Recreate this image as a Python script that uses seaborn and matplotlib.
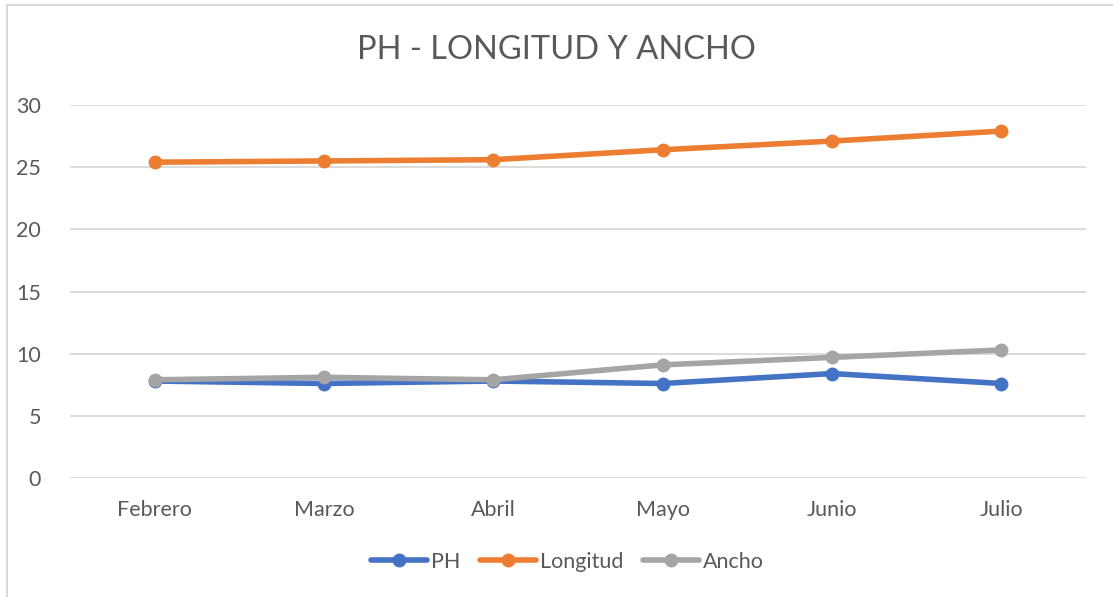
import pandas as pd
import matplotlib.pyplot as plt
import seaborn as sns
from matplotlib.patches import Rectangle

# data
meses = ["Febrero", "Marzo", "Abril", "Mayo", "Junio", "Julio"]
ph = [7.8, 7.6, 7.8, 7.6, 8.4, 7.6]
longitud = [25.4, 25.5, 25.6, 26.4, 27.1, 27.9]
ancho = [7.9, 8.1, 7.9, 9.1, 9.7, 10.3]
series = ["PH", "Longitud", "Ancho"]
colores = ["#4472C4", "#ED7D31", "#A5A5A5"]

df = pd.DataFrame({"Mes": meses * 3,
                   "Valor": ph + longitud + ancho,
                   "Serie": [s for s in series for _ in meses]})

sns.set_theme(style="white")
plt.rcParams['font.family'] = ['Lato', 'DejaVu Sans']

fig = plt.figure(figsize=(11.13, 5.97), dpi=100)
ax = fig.add_axes([70 / 1113, 1 - 478 / 597, 1016 / 1113, 373 / 597])

sns.lineplot(data=df, x="Mes", y="Valor", hue="Serie", hue_order=series,
             palette=colores, marker="o", markersize=10, markeredgewidth=0,
             linewidth=4, sort=False, dashes=False, ax=ax)

ax.set_xlim(-0.5, 5.5)
ax.set_ylim(0, 30)
ax.set_yticks(range(0, 31, 5))
ax.grid(axis="y", color="#D9D9D9", linewidth=1.3)
ax.set_axisbelow(True)
for s in ax.spines.values():
    s.set_visible(False)
ax.tick_params(axis="both", length=0, labelsize=15.5, labelcolor="#595959")
ax.tick_params(axis="x", pad=16)
ax.tick_params(axis="y", pad=21)
ax.set_xlabel("")
ax.set_ylabel("")

fig.text(0.5, 1 - 50 / 597, "PH - LONGITUD Y ANCHO", ha="center", va="center",
         fontsize=23.5, color="#595959")

leg = ax.legend(loc="center", bbox_to_anchor=(0.51, 1 - 562 / 597),
                bbox_transform=fig.transFigure, ncol=3, frameon=False,
                fontsize=15.5, handlelength=2.6, columnspacing=0.9,
                handletextpad=0.2, labelcolor="#595959")

# outer chart border
fig.patches.append(Rectangle((7 / 1113, -0.1), 1.2, 1 - 5 / 597 + 0.1,
                             transform=fig.transFigure, fill=False,
                             edgecolor="#D9D9D9", linewidth=1.5))

fig.savefig("out.png", dpi=100, facecolor="white")
